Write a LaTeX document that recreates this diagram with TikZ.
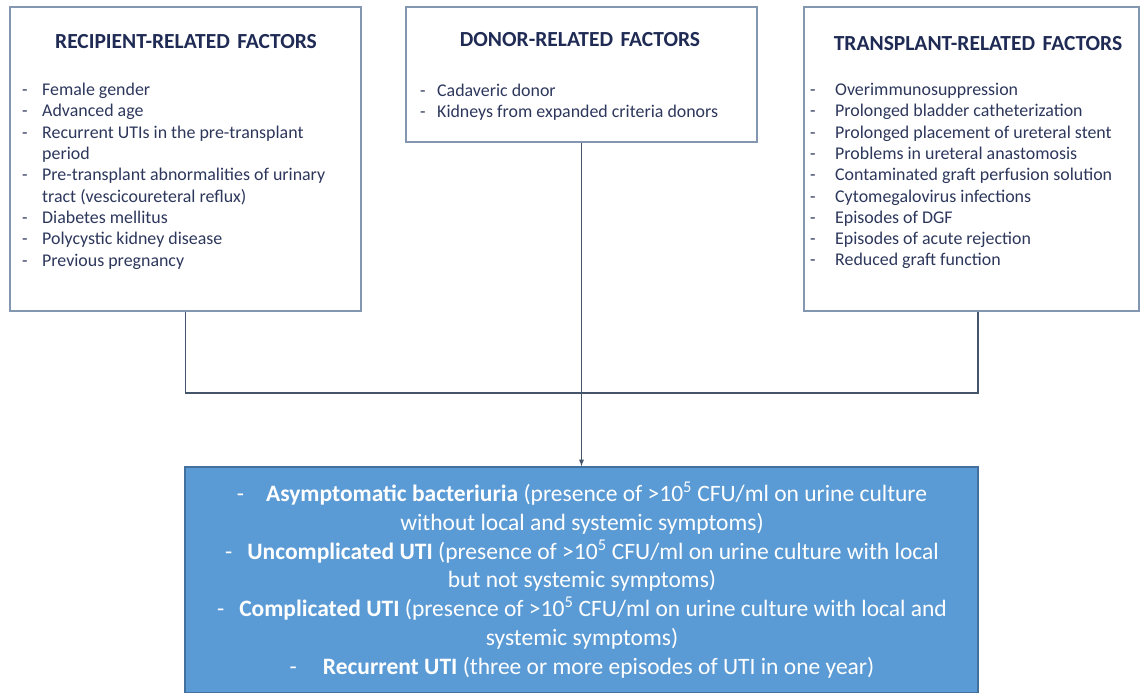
\documentclass[tikz,border=0pt]{standalone}
\usepackage{fontspec}
\setmainfont{Carlito}
\usepackage{tikz}
\usetikzlibrary{shapes,arrows}
\usepackage{color}

\definecolor{navy}{RGB}{31,43,84}
\definecolor{itemtext}{RGB}{45,55,92}
\definecolor{frame}{RGB}{132,151,176}
\definecolor{linkline}{RGB}{68,84,106}
\definecolor{outfill}{RGB}{91,155,213}
\definecolor{outframe}{RGB}{65,113,156}

% list entry with a dash in front, and a wrapped line
\newcommand{\itm}[2][20pt]{\makebox[#1][l]{-}#2}
\newcommand{\contd}[2][20pt]{\hspace*{#1}#2}

\begin{document}
\begin{tikzpicture}[x=1pt,y=-1pt,
    factorbox/.style={draw=frame, line width=1.4pt, fill=white, inner sep=0pt},
    outbox/.style={draw=outframe, line width=1.4pt, fill=outfill, inner sep=0pt},
    heading/.style={text=navy, font=\fontsize{21.5}{25}\selectfont\bfseries, inner sep=0pt},
    itemlist/.style={text=itemtext, font=\fontsize{17.9}{21.3}\selectfont, align=left, inner sep=0pt, anchor=north west},
    outtext/.style={text=white, font=\fontsize{23.5}{28.7}\selectfont, align=center, inner sep=0pt},
    link/.style={draw=linkline, line width=1.3pt}]
      \useasboundingbox (0,0) rectangle (1143,693);

      % boxes
      \node[factorbox, minimum width=351pt, minimum height=304pt] (rec) at (185.5,159) {};
      \node[factorbox, minimum width=351pt, minimum height=135pt] (don) at (581.5,74.5) {};
      \node[factorbox, minimum width=335pt, minimum height=304pt] (tra) at (971.5,159) {};
      \node[outbox, minimum width=793pt, minimum height=226pt] (out) at (581.5,580) {};

      % connectors
      \coordinate (jl) at (185.5,393);
      \coordinate (jr) at (978,393);
      \draw[link] (rec.south) -- (jl) -- (jr) -- (jr |- tra.south);
      \draw[link, -latex] (don.south) -- (out.north);

      % labels
      \node[heading] (rectitle) at (186,42) {RECIPIENT-RELATED\hspace{0.12em} FACTORS};
      \node[heading] (dontitle) at (580,40) {DONOR-RELATED\hspace{0.12em} FACTORS};
      \node[heading] (tratitle) at (978,44) {TRANSPLANT-RELATED\hspace{0.12em} FACTORS};

      \node[itemlist] (recitems) at (22,83) {%
        \itm{Female gender}\\
        \itm{Advanced age}\\
        \itm{Recurrent UTIs in the pre-transplant}\\
        \contd{period}\\
        \itm{Pre-transplant abnormalities of urinary}\\
        \contd{tract (vescicoureteral reflux)}\\
        \itm{Diabetes mellitus}\\
        \itm{Polycystic kidney disease}\\
        \itm{Previous pregnancy}};

      \node[itemlist] (donitems) at (420,84) {%
        \itm[17pt]{Cadaveric donor}\\
        \itm[17pt]{Kidneys from expanded criteria donors}};

      \node[itemlist] (traitems) at (810,83) {%
        \itm[25pt]{Overimmunosuppression}\\
        \itm[25pt]{Prolonged bladder catheterization}\\
        \itm[25pt]{Prolonged placement of ureteral stent}\\
        \itm[25pt]{Problems in ureteral anastomosis}\\
        \itm[25pt]{Contaminated graft perfusion solution}\\
        \itm[25pt]{Cytomegalovirus infections}\\
        \itm[25pt]{Episodes of DGF}\\
        \itm[25pt]{Episodes of acute rejection}\\
        \itm[25pt]{Reduced graft function}};

      \node[outtext] (outlbl) at (582,580) {%
        -\hspace{22pt}\textbf{Asymptomatic bacteriuria} (presence of >10\textsuperscript{5} CFU/ml on urine culture\\
        without local and systemic symptoms)\\
        -\hspace{15pt}\textbf{Uncomplicated UTI} (presence of >10\textsuperscript{5} CFU/ml on urine culture with local\\
        but not systemic symptoms)\\
        -\hspace{15pt}\textbf{Complicated UTI} (presence of >10\textsuperscript{5} CFU/ml on urine culture with local and\\
        systemic symptoms)\\
        -\hspace{26pt}\textbf{Recurrent UTI} (three or more episodes of UTI in one year)};
\end{tikzpicture}
\end{document}
